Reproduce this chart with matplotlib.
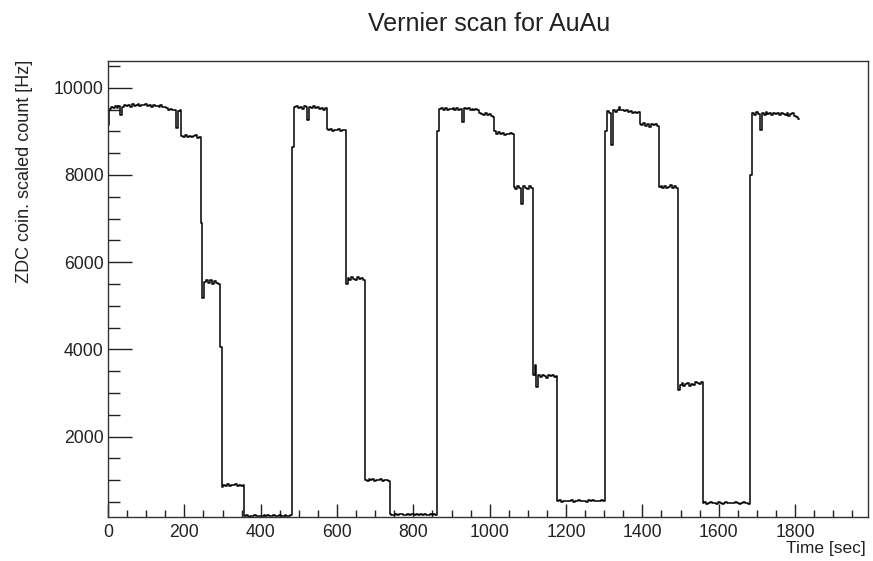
import numpy as np
import matplotlib
matplotlib.use("Agg")
import matplotlib.pyplot as plt
from matplotlib.ticker import MultipleLocator

plt.rcParams['font.family'] = ['Liberation Sans', 'DejaVu Sans']

# ZDC coincidence rate sampled every 5 s during the vernier scan
time_step = 5
rate_hz = [
    9150, 9520, 9560, 9530, 9580, 9540, 9590, 9370, 9560, 9600,
    9580, 9610, 9570, 9620, 9590, 9600, 9630, 9580, 9610, 9600,
    9620, 9590, 9600, 9570, 9610, 9580, 9590, 9560, 9600, 9570,
    9560, 9540, 9500, 9520, 9480, 9500, 9080, 9460, 9490, 8900,
    8880, 8920, 8870, 8900, 8860, 8890, 8910, 8850, 8880, 6900,
    5170, 5540, 5600, 5520, 5580, 5490, 5560, 5530, 5510, 4050,
    850, 880, 870, 900, 860, 890, 880, 900, 870, 880,
    860, 880, 170, 190, 160, 180, 170, 200, 175, 185,
    180, 170, 190, 175, 200, 180, 170, 190, 185, 175,
    190, 180, 170, 200, 185, 180, 195, 8650, 9560, 9580,
    9540, 9570, 9520, 9590, 9550, 9260, 9560, 9540, 9580, 9530,
    9560, 9520, 9540, 9500, 9530, 9060, 9020, 9050, 9000, 9040,
    9030, 9060, 9010, 9040, 9020, 5500, 5640, 5600, 5660, 5620,
    5580, 5650, 5610, 5630, 5600, 1010, 990, 1020, 1000, 1030,
    980, 1010, 1000, 1020, 990, 1010, 1000, 980, 220, 200,
    210, 230, 200, 215, 225, 205, 210, 230, 200, 220,
    215, 200, 225, 210, 230, 205, 220, 210, 200, 225,
    210, 215, 200, 9000, 9510, 9530, 9490, 9540, 9500, 9520,
    9510, 9540, 9500, 9530, 9490, 9520, 9220, 9530, 9510, 9540,
    9500, 9520, 9490, 9510, 9480, 9420, 9400, 9380, 9410, 9370,
    9390, 9350, 9330, 9000, 8950, 8980, 8930, 8960, 8920, 8950,
    8940, 8970, 8930, 7720, 7680, 7750, 7700, 7340, 7740, 7710,
    7680, 7750, 7700, 3400, 3650, 3130, 3420, 3360, 3400, 3380,
    3350, 3410, 3380, 3400, 3360, 3390, 520, 540, 500, 530,
    510, 530, 520, 540, 500, 525, 515, 540, 510, 530,
    520, 505, 535, 515, 545, 520, 510, 530, 525, 540,
    530, 9000, 9460, 9420, 8690, 9480, 9440, 9500, 9550, 9480,
    9500, 9460, 9480, 9440, 9470, 9430, 9450, 9420, 9440, 9180,
    9150, 9200, 9120, 9160, 9090, 9180, 9140, 9170, 9130, 7720,
    7750, 7700, 7740, 7690, 7730, 7760, 7710, 7740, 7700, 3060,
    3180, 3220, 3150, 3200, 3230, 3170, 3210, 3190, 3250, 3220,
    3200, 3260, 470, 490, 460, 480, 500, 470, 485, 460,
    490, 475, 460, 480, 495, 470, 465, 485, 470, 490,
    480, 460, 475, 490, 470, 485, 460, 8000, 9420, 9380,
    9450, 9400, 9030, 9420, 9380, 9440, 9400, 9410, 9380, 9420,
    9390, 9410, 9370, 9420, 9400, 9380, 9410, 9360, 9400, 9420,
    9350, 9320, 9290,
]
time_sec = np.arange(len(rate_hz)) * time_step

x_range = (0, 1991)
y_range = (154, 10614)

fig = plt.figure(figsize=(8.73, 5.61), dpi=100)
ax = fig.add_axes([108 / 873, 1 - 517 / 561, 760 / 873, 456 / 561])

ax.plot(time_sec, rate_hz, color='black', lw=1.1, drawstyle='steps-mid')

ax.set_xlim(*x_range)
ax.set_ylim(*y_range)

ax.xaxis.set_major_locator(MultipleLocator(200))
ax.xaxis.set_minor_locator(MultipleLocator(50))
ax.yaxis.set_major_locator(MultipleLocator(2000))
ax.yaxis.set_minor_locator(MultipleLocator(500))

ax.tick_params(axis='both', which='both', direction='in', colors='#222222',
               labelcolor='#222222', labelsize=12.7)
ax.tick_params(axis='x', which='major', length=9.5, width=1, pad=5)
ax.tick_params(axis='x', which='minor', length=5, width=1)
ax.tick_params(axis='y', which='major', length=17.3, width=1, pad=3)
ax.tick_params(axis='y', which='minor', length=8.6, width=1)

for side in ax.spines.values():
    side.set_color('#333333')
    side.set_linewidth(1)

fig.text(489 / 873, 1 - 31 / 561, 'Vernier scan for AuAu', ha='center', va='baseline',
         fontsize=18, color='#222222')
fig.text(25 / 873, 1 - 60 / 561, 'ZDC coin. scaled count [Hz]', rotation=90,
         ha='center', va='top', fontsize=13, color='#222222')
fig.text(866 / 873, 1 - 553 / 561, 'Time [sec]', ha='right', va='baseline',
         fontsize=12.5, color='#222222')

fig.savefig('out.png', dpi=100, facecolor='white')
